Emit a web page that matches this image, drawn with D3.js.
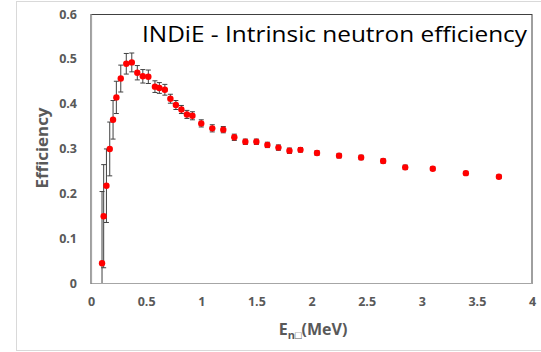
<!DOCTYPE html>
<html>
<head>
<meta charset="utf-8">
<script src="https://cdn.jsdelivr.net/npm/d3@7"></script>
<style>
  html, body { margin: 0; padding: 0; background: #ffffff; }
  svg { display: block; }
</style>
</head>
<body>
<svg id="chart" width="541" height="352"></svg>
<script>
// ---- data ----
const energy = [0.10, 0.115, 0.14, 0.17, 0.20, 0.23, 0.27, 0.32, 0.37, 0.42, 0.47, 0.52,
  0.58, 0.62, 0.67, 0.72, 0.77, 0.82, 0.87, 0.92, 1.0, 1.1, 1.2, 1.3, 1.4, 1.5, 1.6,
  1.7, 1.8, 1.9, 2.05, 2.25, 2.45, 2.65, 2.85, 3.1, 3.4, 3.7];
const efficiency = [0.044, 0.149, 0.217, 0.299, 0.364, 0.414, 0.456, 0.489, 0.492, 0.469,
  0.461, 0.460, 0.438, 0.435, 0.431, 0.411, 0.397, 0.387, 0.376, 0.373, 0.356, 0.345,
  0.342, 0.325, 0.315, 0.315, 0.308, 0.302, 0.295, 0.297, 0.290, 0.284, 0.280, 0.272,
  0.258, 0.255, 0.245, 0.237];
const errors = [0.16, 0.115, 0.082, 0.06, 0.043, 0.036, 0.03, 0.023, 0.021, 0.016,
  0.015, 0.015, 0.013, 0.012, 0.012, 0.010, 0.010, 0.009, 0.009, 0.009, 0.008, 0.008,
  0.007, 0.007, 0.006, 0.006, 0.006, 0.006, 0.006, 0.005, 0.005, 0.005, 0.005, 0.005,
  0.005, 0.004, 0.004, 0.004];
const xTicks = [0, 0.5, 1, 1.5, 2, 2.5, 3, 3.5, 4];
const yTicks = [0, 0.1, 0.2, 0.3, 0.4, 0.5, 0.6];
const titleText = "INDiE - Intrinsic neutron efficiency";
const yTitle = "Efficiency";

// ---- layout ----
const svg = d3.select("#chart");
const pL = 91, pR = 532, pT = 14, pB = 283;
const x = d3.scaleLinear().domain([0, 4]).range([pL, pR]);
const y = d3.scaleLinear().domain([0, 0.6]).range([pB, pT]);
const font = "'Open Sans', 'Liberation Sans', sans-serif";
const grey = "#595959";

// outer chart border
svg.append("rect").attr("x", 16.5).attr("y", 1.5).attr("width", 535).attr("height", 349)
  .attr("fill", "#fff").attr("stroke", "#d9d9d9").attr("stroke-width", 1);

// plot area frame
svg.append("rect").attr("x", pL).attr("y", pT + 0.5)
  .attr("width", pR - pL).attr("height", pB - pT)
  .attr("fill", "none").attr("stroke", "#404040").attr("stroke-width", 1);

svg.append("clipPath").attr("id", "plotclip")
  .append("rect").attr("x", pL).attr("y", pT).attr("width", pR - pL).attr("height", pB - pT);

// axes
const xAxis = svg.append("g").attr("transform", `translate(0,${pB})`)
  .call(d3.axisBottom(x).tickValues(xTicks).tickSize(0).tickPadding(14).tickFormat(d3.format("")));
const yAxis = svg.append("g").attr("transform", `translate(${pL},0)`)
  .call(d3.axisLeft(y).tickValues(yTicks).tickSize(0).tickPadding(14).tickFormat(d3.format("")));
[xAxis, yAxis].forEach(g => {
  g.select(".domain").attr("stroke", "#a6a6a6").attr("stroke-width", 1.2);
  g.selectAll("text").attr("font-family", font).attr("font-size", 12.5)
    .attr("font-weight", "bold").attr("fill", grey);
});

const data = energy.map((e, i) => ({ e, v: efficiency[i], err: errors[i] }));
const plot = svg.append("g").attr("clip-path", "url(#plotclip)");

// error bars
const eb = plot.selectAll("g.err").data(data).join("g").attr("class", "err")
  .attr("stroke", "#404040").attr("stroke-width", 1);
eb.append("line").attr("x1", d => x(d.e)).attr("x2", d => x(d.e))
  .attr("y1", d => y(d.v - d.err)).attr("y2", d => y(d.v + d.err));
eb.append("line").attr("x1", d => x(d.e) - 2.5).attr("x2", d => x(d.e) + 2.5)
  .attr("y1", d => y(d.v + d.err)).attr("y2", d => y(d.v + d.err));
eb.append("line").attr("x1", d => x(d.e) - 2.5).attr("x2", d => x(d.e) + 2.5)
  .attr("y1", d => y(d.v - d.err)).attr("y2", d => y(d.v - d.err));

// markers
plot.selectAll("circle").data(data).join("circle")
  .attr("cx", d => x(d.e)).attr("cy", d => y(d.v)).attr("r", 3.2)
  .attr("fill", "#ff0000");

// title
svg.append("text").attr("x", 142).attr("y", 42)
  .attr("font-family", font).attr("font-size", 22).attr("fill", "#000")
  .attr("textLength", 385).attr("lengthAdjust", "spacingAndGlyphs")
  .text(titleText);

// y axis title
svg.append("text").attr("transform", "translate(48,148) rotate(-90)")
  .attr("text-anchor", "middle").attr("font-family", font).attr("font-size", 16)
  .attr("font-weight", "bold").attr("fill", grey)
  .attr("textLength", 81).attr("lengthAdjust", "spacingAndGlyphs")
  .text(yTitle);

// x axis title
const xt = svg.append("text").attr("x", 313).attr("y", 335).attr("text-anchor", "middle")
  .attr("font-family", font).attr("font-size", 16).attr("font-weight", "bold").attr("fill", grey);
xt.append("tspan").text("E");
xt.append("tspan").attr("font-size", 11).attr("dy", 4).text("n\u25A1");
xt.append("tspan").attr("dy", -4).text("(MeV)");
</script>
</body>
</html>
